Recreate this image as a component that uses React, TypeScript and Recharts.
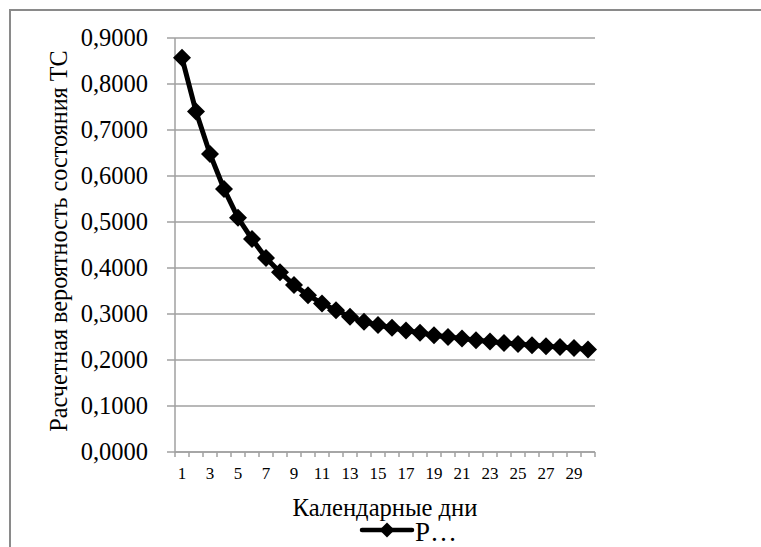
import React from 'react';
import { LineChart, Line, XAxis, YAxis, CartesianGrid, Legend, Label } from 'recharts';

const days = [1, 2, 3, 4, 5, 6, 7, 8, 9, 10, 11, 12, 13, 14, 15, 16, 17, 18, 19, 20, 21, 22, 23, 24, 25, 26, 27, 28, 29, 30];
const probability = [0.857, 0.740, 0.648, 0.572, 0.509, 0.463, 0.422, 0.391, 0.363, 0.341, 0.323, 0.308, 0.294, 0.283, 0.276, 0.270, 0.264, 0.259, 0.254, 0.250, 0.247, 0.243, 0.240, 0.237, 0.235, 0.232, 0.230, 0.228, 0.226, 0.223];
const xLabelTicks = [1, 3, 5, 7, 9, 11, 13, 15, 17, 19, 21, 23, 25, 27, 29];
const xBoundaryTicks = [0.5, 1.5, 2.5, 3.5, 4.5, 5.5, 6.5, 7.5, 8.5, 9.5, 10.5, 11.5, 12.5, 13.5, 14.5, 15.5, 16.5, 17.5, 18.5, 19.5, 20.5, 21.5, 22.5, 23.5, 24.5, 25.5, 26.5, 27.5, 28.5, 29.5, 30.5];
const yTicks = [0, 0.1, 0.2, 0.3, 0.4, 0.5, 0.6, 0.7, 0.8, 0.9];
const seriesName = 'P…';
const xTitle = 'Календарные дни';
const yTitle = 'Расчетная вероятность состояния ТС';

const data = days.map((d, i) => ({ day: d, p: probability[i] }));
const allXTicks = [...xBoundaryTicks, ...xLabelTicks].sort((a, b) => a - b);

const FONT = "'Liberation Serif', 'Times New Roman', serif";
const GRID = '#a0a0a0';

const XTick = (props: any) => {
  const { x, y, payload } = props;
  const v = payload.value;
  if (Number.isInteger(v)) {
    return (
      <text x={x} y={y + 27} textAnchor="middle" style={{ fontFamily: FONT, fontSize: 17 }} fill="#000">
        {v}
      </text>
    );
  }
  return <line x1={x} x2={x} y1={y} y2={y + 5} stroke={GRID} strokeWidth={1.5} />;
};

const YTick = (props: any) => {
  const { x, y, payload } = props;
  const label = Number(payload.value).toFixed(4).replace('.', ',');
  return (
    <text x={x} y={y + 8} textAnchor="end" style={{ fontFamily: FONT, fontSize: 24.5 }} fill="#000">
      {label}
    </text>
  );
};

const YTitle = (props: any) => {
  const { viewBox } = props;
  const cx = 58;
  const cy = viewBox.y + viewBox.height / 2 - 4;
  return (
    <text
      x={cx}
      y={cy}
      transform={`rotate(-90, ${cx}, ${cy})`}
      textAnchor="middle"
      dominantBaseline="central"
      style={{ fontFamily: FONT, fontSize: 24.2 }}
      fill="#000"
    >
      {yTitle}
    </text>
  );
};

const XTitle = (props: any) => {
  const { viewBox } = props;
  const cx = viewBox.x + viewBox.width / 2;
  return (
    <text x={cx} y={viewBox.y + 64} textAnchor="middle" style={{ fontFamily: FONT, fontSize: 24.6 }} fill="#000">
      {xTitle}
    </text>
  );
};

const Diamond = (props: any) => {
  const { cx, cy, index } = props;
  const r = 9;
  return (
    <path
      key={`d-${index}`}
      d={`M${cx},${cy - r}L${cx + r},${cy}L${cx},${cy + r}L${cx - r},${cy}Z`}
      fill="#000"
    />
  );
};

const LegendContent = () => (
  <div style={{ display: 'flex', alignItems: 'center', fontFamily: FONT, fontSize: 27, color: '#000', lineHeight: '26px' }}>
    <svg width={56} height={20} style={{ display: 'block' }}>
      <line x1={3} y1={10} x2={53} y2={10} stroke="#000" strokeWidth={4.5} strokeLinecap="round" />
      <path d="M28,2.5L35.5,10L28,17.5L20.5,10Z" fill="#000" />
    </svg>
    <span style={{ marginTop: 4 }}>{seriesName}</span>
  </div>
);

export default function App() {
  return (
    <div style={{ position: 'absolute', left: 0, top: 0, width: 761, height: 547, background: '#fff', fontFamily: FONT }}>
      <div
        style={{
          position: 'absolute',
          left: 9,
          top: 9,
          width: 752,
          height: 538,
          borderTop: '2px solid #8a8a8a',
          borderLeft: '2px solid #8a8a8a',
          boxSizing: 'border-box',
        }}
      />
      <div style={{ position: 'absolute', left: 0, top: 0 }}>
        <LineChart
          width={761}
          height={547}
          data={data}
          margin={{ top: 38, right: 166, bottom: 0, left: 0 }}
          style={{ fontFamily: FONT }}
        >
          <CartesianGrid horizontal vertical={false} stroke={GRID} strokeWidth={1.5} />
          <XAxis
            dataKey="day"
            type="number"
            domain={[0.5, 30.5]}
            ticks={allXTicks}
            interval={0}
            height={95}
            tickSize={0}
            tickMargin={0}
            tickLine={false}
            tick={<XTick />}
            axisLine={{ stroke: GRID, strokeWidth: 1.5 }}
          >
            <Label content={<XTitle />} />
          </XAxis>
          <YAxis
            type="number"
            domain={[0, 0.9]}
            ticks={yTicks}
            interval={0}
            width={175}
            tickSize={8}
            tickMargin={19}
            tickLine={{ stroke: GRID, strokeWidth: 1.5 }}
            axisLine={{ stroke: GRID, strokeWidth: 1.5 }}
            tick={<YTick />}
          >
            <Label content={<YTitle />} />
          </YAxis>
          <Legend
            layout="horizontal"
            verticalAlign="middle"
            align="center"
            content={<LegendContent />}
            wrapperStyle={{ left: 359, top: 515, width: 130, height: 26 }}
          />
          <Line
            type="linear"
            dataKey="p"
            name={seriesName}
            stroke="#000"
            strokeWidth={5}
            dot={Diamond}
            activeDot={false}
            isAnimationActive={false}
          />
        </LineChart>
      </div>
    </div>
  );
}
